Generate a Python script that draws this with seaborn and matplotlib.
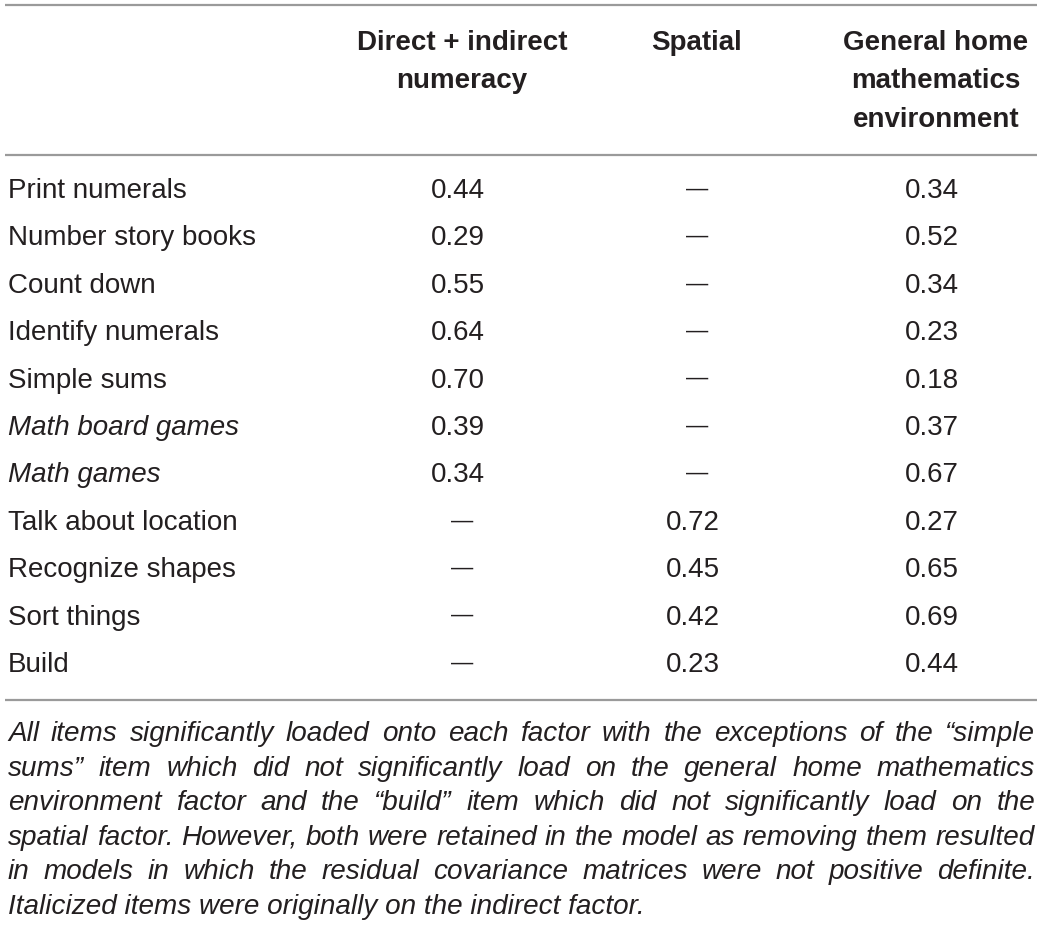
import matplotlib
matplotlib.use("Agg")
import matplotlib.pyplot as plt
import seaborn as sns

# Table contents
items = ["Print numerals", "Number story books", "Count down", "Identify numerals",
         "Simple sums", "Math board games", "Math games", "Talk about location",
         "Recognize shapes", "Sort things", "Build"]
italic_items = ["Math board games", "Math games"]
direct_indirect = [0.44, 0.29, 0.55, 0.64, 0.70, 0.39, 0.34, None, None, None, None]
spatial = [None, None, None, None, None, None, None, 0.72, 0.45, 0.42, 0.23]
general_home = [0.34, 0.52, 0.34, 0.23, 0.18, 0.37, 0.67, 0.27, 0.65, 0.69, 0.44]
headers = ["Direct + indirect\nnumeracy", "Spatial", "General home\nmathematics\nenvironment"]
footnote_lines = [
    "All items significantly loaded onto each factor with the exceptions of the \u201csimple",
    "sums\u201d item which did not significantly load on the general home mathematics",
    "environment factor and the \u201cbuild\u201d item which did not significantly load on the",
    "spatial factor. However, both were retained in the model as removing them resulted",
    "in models in which the residual covariance matrices were not positive definite.",
    "Italicized items were originally on the indirect factor.",
]

sns.set_theme(style="white")
plt.rcParams['font.family'] = ['Liberation Sans', 'DejaVu Sans']

W, H = 1043, 935
fig = plt.figure(figsize=(W / 100, H / 100), dpi=100)
ax = fig.add_axes([0, 0, 1, 1])
ax.set_xlim(0, W)
ax.set_ylim(H, 0)
ax.axis('off')

text_color = '#231f20'
rule_color = '#9a9a9a'
fs = 20

# horizontal rules
for y in (5, 155, 700):
    ax.plot([5, 1037], [y, y], color=rule_color, lw=1.6, solid_capstyle='butt')

# headers
col_x = [462, 697, 936]
for x, h in zip(col_x, headers):
    ax.text(x, 30, h, ha='center', va='top', fontsize=fs, fontweight='bold',
            color=text_color, linespacing=1.62)

row0, row_step = 191, 47.4
for i, item in enumerate(items):
    y = row0 + i * row_step
    style = 'italic' if item in italic_items else 'normal'
    ax.text(8, y, item, ha='left', va='center', fontsize=fs, style=style,
            color=text_color)
    for x, col in zip(col_x, (direct_indirect, spatial, general_home)):
        v = col[i]
        if v is None:
            ax.text(x, y - 2, "\u2014", ha='center', va='center', fontsize=16,
                    color=text_color)
        else:
            ax.text(x - 4, y, f"{v:.2f}", ha='center', va='center', fontsize=fs,
                    color=text_color)

# justified footnote
renderer = fig.canvas.get_renderer()
left, right = 8, 1035
fn_y0, fn_step = 734, 34.6
fn_fs = 20.1
for li, line in enumerate(footnote_lines):
    y = fn_y0 + li * fn_step
    words = line.split(" ")
    if li == len(footnote_lines) - 1:
        ax.text(left, y, line, ha='left', va='center', fontsize=fn_fs,
                style='italic', color=text_color)
        continue
    arts = [ax.text(0, y, w, ha='left', va='center', fontsize=fn_fs,
                    style='italic', color=text_color) for w in words]
    widths = [a.get_window_extent(renderer).width for a in arts]
    gap = (right - left - sum(widths)) / (len(words) - 1)
    x = left
    for a, w in zip(arts, widths):
        a.set_x(x)
        x += w + gap

fig.savefig("out.png", dpi=100)
